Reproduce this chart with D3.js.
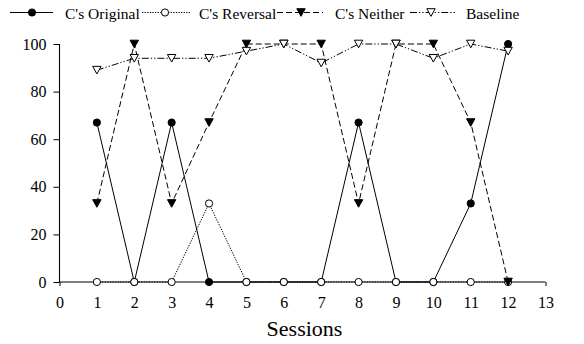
<!DOCTYPE html>
<html>
<head>
<meta charset="utf-8">
<script src="https://cdn.jsdelivr.net/npm/d3@7/dist/d3.min.js"></script>
<style>
  html, body { margin: 0; padding: 0; background: #fff; }
</style>
</head>
<body>
<svg id="chart" width="584" height="344"></svg>
<script>
// Sessions 1..12, percentage of responses per category
const sessions = [1, 2, 3, 4, 5, 6, 7, 8, 9, 10, 11, 12];
const original = [67, 0, 67, 0, 0, 0, 0, 67, 0, 0, 33, 100];
const reversal = [0, 0, 0, 33, 0, 0, 0, 0, 0, 0, 0, 0];
const neither  = [33, 100, 33, 67, 100, 100, 100, 33, 100, 100, 67, 0];
const baseline = [89, 94, 94, 94, 97, 100, 92, 100, 100, 94, 100, 97];

const seriesNames = ["C's Original", "C's Reversal", "C's Neither", "Baseline"];
const xTicks = [0, 1, 2, 3, 4, 5, 6, 7, 8, 9, 10, 11, 12, 13];
const yTicks = [0, 20, 40, 60, 80, 100];
const xTitle = "Sessions";

// pick the first installed Times-like face
function pickSerif() {
  const cands = ["Liberation Serif", "Tinos", "Times New Roman", "Times", "Nimbus Roman",
                 "Nimbus Roman No9 L", "FreeSerif", "Noto Serif", "DejaVu Serif"];
  const ctx = document.createElement("canvas").getContext("2d");
  const sample = "Sessions C's Original 0123456789 mmmWWiil";
  ctx.font = "40px monospace";
  const base = ctx.measureText(sample).width;
  for (const c of cands) {
    ctx.font = `40px "${c}", monospace`;
    if (Math.abs(ctx.measureText(sample).width - base) > 0.5) return `"${c}", serif`;
  }
  return "serif";
}
const FONT = pickSerif();

const series = [
  { name: seriesNames[0], values: original, dash: null,              marker: "circle",   fill: "#000" },
  { name: seriesNames[1], values: reversal, dash: "1.3,1.3",         marker: "circle",   fill: "#fff" },
  { name: seriesNames[2], values: neither,  dash: "6,3",             marker: "triangle", fill: "#000" },
  { name: seriesNames[3], values: baseline, dash: "7,2,1.3,2,1.3,2", marker: "triangle", fill: "#fff" }
];

const svg = d3.select("#chart").style("font-family", FONT);
const x = d3.scaleLinear().domain([0, 13]).range([59.5, 545.5]);
const y = d3.scaleLinear().domain([0, 100]).range([282, 44]);

// axes
const xAxis = d3.axisBottom(x).tickValues(xTicks).tickSize(4).tickPadding(11).tickFormat(d3.format("d"));
const yAxis = d3.axisLeft(y).tickValues(yTicks).tickSize(6).tickPadding(7).tickFormat(d3.format("d"));

const gx = svg.append("g").attr("transform", `translate(0,${y(0)})`).call(xAxis);
const gy = svg.append("g").attr("transform", `translate(${x(0)},0)`).call(yAxis);
[gx, gy].forEach(g => {
  g.attr("font-family", null).attr("font-size", null);
  g.select(".domain").attr("stroke", "#000").attr("stroke-width", 1.1);
  g.selectAll(".tick line").attr("stroke", "#000").attr("stroke-width", 1);
  g.selectAll(".tick text").attr("fill", "#000").style("font-family", FONT).style("font-size", "16px");
});
gx.select(".domain").attr("d", `M${x(0)},0H${x(13)}`);
gy.select(".domain").attr("d", `M0,${y(100)}V${y(0)}`);

svg.append("text")
  .attr("x", (x(0) + x(13)) / 2 + 2)
  .attr("y", 336)
  .attr("text-anchor", "middle")
  .style("font-family", FONT)
  .style("font-size", "22px")
  .text(xTitle);

// marker shapes
function drawMarker(g, kind, fill, cx, cy) {
  if (kind === "circle") {
    g.append("circle").attr("cx", cx).attr("cy", cy).attr("r", 3.6)
      .attr("fill", fill).attr("stroke", "#000").attr("stroke-width", 1);
  } else {
    const w = 4.2, h = 3.8;
    g.append("path")
      .attr("d", `M${cx - w},${cy - h}L${cx + w},${cy - h}L${cx},${cy + h}Z`)
      .attr("fill", fill).attr("stroke", "#000").attr("stroke-width", 1);
  }
}

const line = d3.line().x((d, i) => x(sessions[i])).y(d => y(d));

series.forEach(s => {
  const g = svg.append("g");
  g.append("path")
    .attr("d", line(s.values))
    .attr("fill", "none")
    .attr("stroke", "#000")
    .attr("stroke-width", 1)
    .attr("stroke-dasharray", s.dash);
  s.values.forEach((v, i) => drawMarker(g, s.marker, s.fill, x(sessions[i]), y(v)));
});

// legend
const legendItems = [
  { x0: 10,  x1: 53,  m: 32,  tx: 65 },
  { x0: 142, x1: 190, m: 165, tx: 199 },
  { x0: 277, x1: 323, m: 301, tx: 335 },
  { x0: 410, x1: 455, m: 431, tx: 466 }
];
const legend = svg.append("g");
series.forEach((s, i) => {
  const L = legendItems[i];
  legend.append("line")
    .attr("x1", L.x0).attr("x2", L.x1).attr("y1", 12.5).attr("y2", 12.5)
    .attr("stroke", "#000").attr("stroke-width", 1)
    .attr("stroke-dasharray", s.dash);
  drawMarker(legend, s.marker, s.fill, L.m, 12.5);
  legend.append("text")
    .attr("x", L.tx).attr("y", 18.5)
    .style("font-family", FONT)
    .style("font-size", "15.5px")
    .text(s.name);
});
</script>
</body>
</html>
